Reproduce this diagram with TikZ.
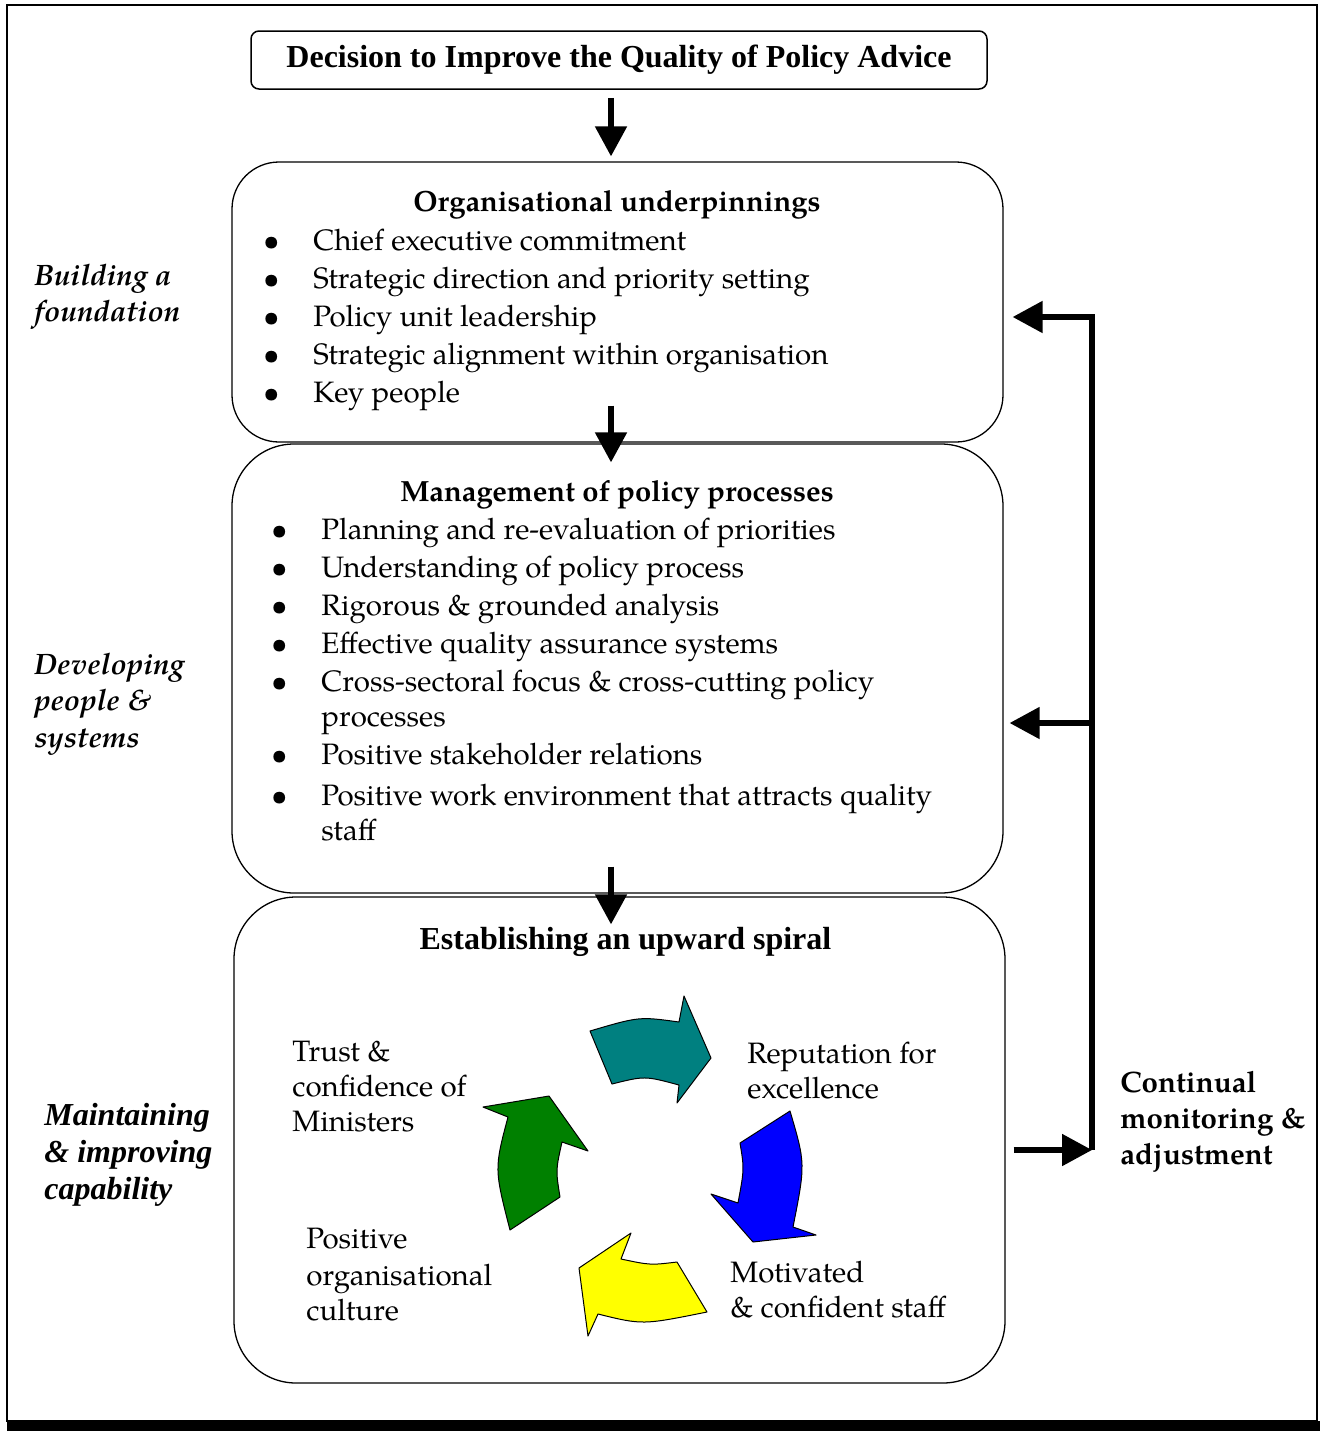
\documentclass[tikz,border=0pt]{standalone}
\usepackage{fontspec}
\setmainfont{texgyrepagella}[Extension=.otf, UprightFont=*-regular, BoldFont=*-bold, ItalicFont=*-italic, BoldItalicFont=*-bolditalic]
\newfontfamily\timesfont{Liberation Serif}
\usetikzlibrary{arrows.meta}

\definecolor{spiralteal}{RGB}{0,128,128}
\definecolor{spiralblue}{RGB}{0,0,255}
\definecolor{spiralyellow}{RGB}{255,255,0}
\definecolor{spiralgreen}{RGB}{0,128,0}

\newcommand\diagsize{\fontsize{14.75}{19}\selectfont}
\newcommand\headsize{\fontsize{14.6}{19}\selectfont}
\newcommand\timessize{\timesfont\fontsize{16}{19}\selectfont}

\tikzset{
  stage/.style={draw, line width=0.65pt, minimum width=385.5pt, inner sep=0pt},
  titlebox/.style={draw, rounded corners=4pt, line width=0.75pt, minimum width=368pt,
    minimum height=29pt, inner sep=0pt, font=\timessize\bfseries},
  flow/.style={line width=2.6pt, -{Triangle[length=15pt,width=15.5pt]}},
  item/.style={anchor=base west, inner sep=0pt, font=\diagsize},
  dot/.style={anchor=base, inner sep=0pt, font=\diagsize},
  heading/.style={anchor=base, inner sep=0pt, font=\headsize\bfseries},
  sidelabel/.style={anchor=base west, inner sep=0pt, font=\diagsize\bfseries\itshape},
  wedge/.style={draw, line width=0.5pt, line join=round},
}

\begin{document}
\begin{tikzpicture}[x=0.5pt, y=-0.5pt]
\useasboundingbox (0,0) rectangle (1322,1431);

% frame and its shadow
\draw[line width=0.75pt] (7,5) rectangle (1317,1421);
\fill (7,1421) rectangle (1320,1431);

\node[titlebox] (decision) at (619,60) {Decision to Improve the Quality of Policy Advice};

\node[stage, minimum height=140pt, rounded corners=23.5pt] (found) at (617.5,302) {};
\node[stage, minimum height=224.5pt, rounded corners=31pt] (process) at (617.5,668.5) {};
\node[stage, minimum height=243pt, rounded corners=31pt] (upward) at (619.5,1140) {};

% box 1
\node[heading] (foundhead) at (617,211) {Organisational underpinnings};
\foreach \y/\txt in {250/Chief executive commitment,
                     288/Strategic direction and priority setting,
                     326/Policy unit leadership,
                     364/Strategic alignment within organisation,
                     402/Key people} {
  \node[dot] (founddot\y) at (271.5,\y) {\textbullet};
  \node[item] (founditem\y) at (313,\y) {\txt};
}

% box 2
\node[heading] (processhead) at (617,501) {Management of policy processes};
\foreach \y in {539,577,615,653,691,764,805}
  \node[dot] (processdot\y) at (279.5,\y) {\textbullet};
\foreach \y/\txt in {539/Planning and re-evaluation of priorities,
                     577/Understanding of policy process,
                     615/Rigorous \& grounded analysis,
                     653/Effective quality assurance systems,
                     691/Cross-sectoral focus \& cross-cutting policy,
                     726/processes,
                     764/Positive stakeholder relations,
                     805/Positive work environment that attracts quality,
                     840/staff}
  \node[item] (processitem\y) at (321,\y) {\txt};

% box 3
\node[heading, font=\timessize\bfseries] (upwardhead) at (625.5,949) {Establishing an upward spiral};

\fill[wedge, fill=spiralteal] (590,1031) .. controls (639.2,1016.5) .. (679,1022) -- (684,996) -- (711,1058)
  -- (677,1103) -- (679,1085) .. controls (644.8,1075.8) .. (612,1084) -- cycle;
\fill[wedge, fill=spiralblue] (790,1111) .. controls (805.5,1163.7) .. (793,1227) -- (816,1235) -- (753,1242)
  -- (711,1194) -- (738,1203) .. controls (744.3,1169) .. (740,1143) -- cycle;
\fill[wedge, fill=spiralyellow] (707,1312) .. controls (642.5,1325) .. (598,1314) -- (588,1336) -- (579,1268)
  -- (631,1233) -- (621,1259) .. controls (650.3,1265.2) .. (677,1262) -- cycle;
\fill[wedge, fill=spiralgreen] (510,1230) .. controls (494.3,1168.8) .. (508,1117) -- (483,1107) -- (549,1096)
  -- (588,1151) -- (562,1142) .. controls (555.7,1170.2) .. (560,1197) -- cycle;

\foreach \y/\txt in {1061/Trust \&, 1096/confidence of, 1131/Ministers}
  \node[item] (trust\y) at (292,\y) {\txt};
\foreach \y/\txt in {1063/Reputation for, 1098/excellence}
  \node[item] (repute\y) at (747,\y) {\txt};
\foreach \y/\txt in {1282/Motivated, 1317/\& confident staff}
  \node[item] (staff\y) at (730,\y) {\txt};
\foreach \y/\txt in {1248/Positive, 1285/organisational, 1320/culture}
  \node[item] (culture\y) at (306,\y) {\txt};

% side labels
\foreach \y/\txt in {285/Building a, 321/foundation}
  \node[sidelabel] (build\y) at (34,\y) {\txt};
\foreach \y/\txt in {674/Developing, 710/people \&, 747/systems}
  \node[sidelabel] (develop\y) at (34,\y) {\txt};
\foreach \y/\txt in {1125/Maintaining, 1162/\& improving, 1199/capability}
  \node[sidelabel, font=\timessize\bfseries\itshape] (maintain\y) at (44,\y) {\txt};
\foreach \y/\txt in {1092/Continual, 1128/monitoring \&, 1164/adjustment}
  \node[item, font=\diagsize\bfseries] (monitor\y) at (1120,\y) {\txt};

% arrows
\draw[flow] ([xshift=-4pt,yshift=-4pt]decision.south) -- ([xshift=-3.25pt,yshift=2.5pt]found.north);
\draw[flow] ([xshift=-3.25pt,yshift=18.5pt]found.south) -- ([xshift=-3.25pt,yshift=-9.5pt]process.north);
\draw[flow] ([xshift=-3.25pt,yshift=13.5pt]process.south) -- ([xshift=-4.25pt,yshift=-14pt]upward.north);

\coordinate (looptop) at (1092,317);
\coordinate (loopbot) at (1092,1150);
\coordinate (midtip) at ([xshift=3pt,yshift=-27.25pt]process.east);
\draw[flow] ([xshift=4pt,yshift=-5pt]upward.east) -- (loopbot);
\draw[flow] (loopbot) -- (looptop) -- ([xshift=4.5pt,yshift=-7.5pt]found.east);
\draw[flow] (midtip -| looptop) -- (midtip);

\end{tikzpicture}
\end{document}
